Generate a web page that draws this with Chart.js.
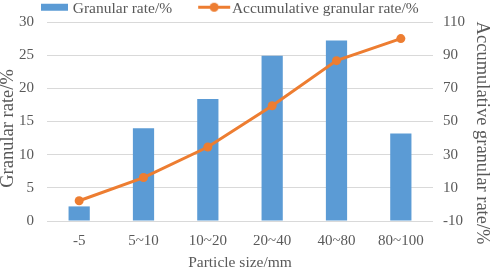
<!DOCTYPE html>
<html>
<head>
<meta charset="utf-8">
<script src="https://cdn.jsdelivr.net/npm/chart.js@4"></script>
<style>
  html, body { margin: 0; padding: 0; background: #fff; }
  #wrap { width: 491px; height: 268px; position: relative; }
</style>
</head>
<body>
<div id="wrap"><canvas id="sizeChart"></canvas></div>
<script>
// particle size classes and the two series
const categories = ['-5', '5~10', '10~20', '20~40', '40~80', '80~100'];
const granularRate = [2.2, 14.0, 18.4, 24.9, 27.2, 13.2];
const accumulativeRate = [2.2, 16.2, 34.6, 59.5, 86.7, 100];
const granularTicks = [0, 5, 10, 15, 20, 25, 30];
const accumulativeTicks = [-10, 10, 30, 50, 70, 90, 110];

const blue = '#5B9BD5';
const orange = '#ED7D31';
const textColor = '#595959';
const serif = "'Liberation Serif', 'Times New Roman', serif";

// small legend markers (bar swatch / line with dot)
function legendImage(w, h, draw) {
  const c = document.createElement('canvas');
  c.width = w;
  c.height = h;
  draw(c.getContext('2d'));
  return c;
}
const barMarker = legendImage(64, 16, ctx => {
  ctx.fillStyle = blue;
  ctx.fillRect(34, 3, 27, 7);
});
const lineMarker = legendImage(68, 16, ctx => {
  ctx.strokeStyle = orange;
  ctx.lineWidth = 3;
  ctx.beginPath();
  ctx.moveTo(34, 6.5);
  ctx.lineTo(66, 6.5);
  ctx.stroke();
  ctx.fillStyle = orange;
  ctx.beginPath();
  ctx.arc(50, 6.5, 4.5, 0, Math.PI * 2);
  ctx.fill();
});
const legendMarkers = [barMarker, lineMarker];

// nudge the legend to where the original sits
const legendOffset = {
  id: 'legendOffset',
  afterLayout(chart) {
    chart.legend.left += 13;
    chart.legend.right += 13;
  }
};

const ctx = document.getElementById('sizeChart').getContext('2d');
const sizeChart = new Chart(ctx, {
  data: {
    labels: categories,
    datasets: [
      {
        type: 'bar',
        label: 'Granular rate/%',
        data: granularRate,
        backgroundColor: blue,
        yAxisID: 'y',
        categoryPercentage: 1,
        barPercentage: 0.33,
        order: 1
      },
      {
        type: 'line',
        label: 'Accumulative granular rate/%',
        data: accumulativeRate,
        borderColor: orange,
        backgroundColor: orange,
        borderWidth: 3,
        pointRadius: 4.5,
        pointBackgroundColor: orange,
        pointBorderWidth: 0,
        tension: 0,
        yAxisID: 'y1',
        order: 0
      }
    ]
  },
  options: {
    responsive: true,
    maintainAspectRatio: false,
    animation: false,
    layout: { padding: 0 },
    plugins: {
      tooltip: { enabled: false },
      legend: {
        position: 'top',
        align: 'start',
        maxHeight: 21,
        labels: {
          usePointStyle: true,
          pointStyleWidth: 52,
          padding: 0,
          color: textColor,
          font: { family: serif, size: 15.5 },
          sort: (a, b) => a.datasetIndex - b.datasetIndex,
          generateLabels(chart) {
            const items = Chart.defaults.plugins.legend.labels.generateLabels(chart);
            items.forEach(item => { item.pointStyle = legendMarkers[item.datasetIndex]; });
            return items;
          }
        }
      }
    },
    scales: {
      x: {
        grid: { display: false, drawTicks: false },
        border: { display: false },
        ticks: { color: textColor, font: { family: serif, size: 15 }, padding: 11 },
        title: {
          display: true,
          text: 'Particle size/mm',
          color: textColor,
          font: { family: serif, size: 15.5 },
          padding: { top: 0, bottom: -4.5 }
        },
        afterFit(scale) { scale.height = 47; }
      },
      y: {
        position: 'left',
        min: granularTicks[0],
        max: granularTicks[granularTicks.length - 1],
        afterBuildTicks(scale) { scale.ticks = granularTicks.map(v => ({ value: v })); },
        grid: { color: '#D9D9D9', lineWidth: 1, drawTicks: false },
        border: { display: false },
        ticks: { color: textColor, font: { family: serif, size: 15 }, padding: 13 },
        title: {
          display: true,
          text: 'Granular rate/%   ',
          color: textColor,
          font: { family: serif, size: 18.5 },
          padding: { top: -2.6, bottom: 0 }
        },
        afterFit(scale) { scale.width = 47; }
      },
      y1: {
        position: 'right',
        min: accumulativeTicks[0],
        max: accumulativeTicks[accumulativeTicks.length - 1],
        afterBuildTicks(scale) { scale.ticks = accumulativeTicks.map(v => ({ value: v })); },
        grid: { display: false, drawTicks: false },
        border: { display: false },
        ticks: { color: textColor, font: { family: serif, size: 15 }, padding: 10 },
        title: {
          display: true,
          text: '     Accumulative granular rate/%',
          color: textColor,
          font: { family: serif, size: 18.5 },
          padding: { top: -1.6, bottom: 0 }
        },
        afterFit(scale) { scale.width = 58; }
      }
    }
  },
  plugins: [legendOffset]
});
</script>
</body>
</html>
